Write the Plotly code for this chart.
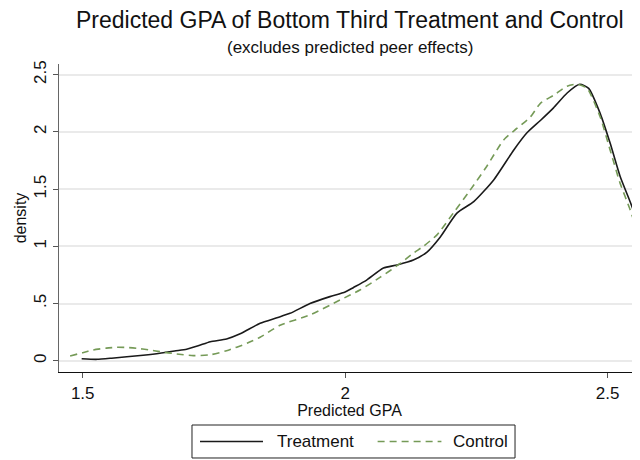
import plotly.graph_objects as go

# ---- data ----
treat_x = [1.498, 1.527, 1.555, 1.584, 1.615, 1.647, 1.675, 1.698, 1.720, 1.743,
           1.774, 1.800, 1.838, 1.870, 1.895, 1.933, 1.971, 2.000, 2.016, 2.041,
           2.073, 2.099, 2.130, 2.156, 2.181, 2.213, 2.245, 2.283, 2.321, 2.346,
           2.372, 2.397, 2.423, 2.447, 2.464, 2.486, 2.505, 2.524, 2.543, 2.559]
treat_y = [0.017, 0.012, 0.022, 0.035, 0.048, 0.065, 0.085, 0.100, 0.130, 0.166,
           0.190, 0.235, 0.327, 0.375, 0.414, 0.500, 0.560, 0.600, 0.640, 0.705,
           0.810, 0.837, 0.880, 0.950, 1.080, 1.290, 1.390, 1.580, 1.840, 1.990,
           2.100, 2.210, 2.340, 2.416, 2.380, 2.160, 1.900, 1.610, 1.390, 1.190]

ctrl_x = [1.476, 1.500, 1.520, 1.545, 1.565, 1.585, 1.603, 1.625, 1.647, 1.679,
          1.711, 1.743, 1.774, 1.813, 1.838, 1.876, 1.933, 1.990, 2.029, 2.067,
          2.105, 2.130, 2.149, 2.175, 2.206, 2.238, 2.270, 2.302, 2.327, 2.353,
          2.372, 2.397, 2.423, 2.442, 2.461, 2.486, 2.505, 2.524, 2.543, 2.556]
ctrl_y = [0.041, 0.070, 0.094, 0.110, 0.117, 0.115, 0.108, 0.095, 0.079, 0.059,
          0.044, 0.052, 0.087, 0.152, 0.205, 0.310, 0.400, 0.530, 0.620, 0.730,
          0.850, 0.940, 1.000, 1.100, 1.290, 1.490, 1.700, 1.930, 2.030, 2.130,
          2.250, 2.320, 2.400, 2.416, 2.380, 2.130, 1.840, 1.550, 1.320, 1.140]

x_tick_vals = [1.5, 2, 2.5]
x_tick_text = ["1.5", "2", "2.5"]
y_tick_vals = [0, 0.5, 1, 1.5, 2, 2.5]
y_tick_text = ["0", ".5", "1", "1.5", "2", "2.5"]

series_names = ["Treatment", "Control"]
series_colors = ["#1a1a1a", "#759a57"]

FONT = "Liberation Sans, Arial, Helvetica, sans-serif"

fig = go.Figure()
fig.add_trace(go.Scatter(x=treat_x, y=treat_y, mode="lines", name=series_names[0],
                         showlegend=False,
                         line=dict(color=series_colors[0], width=1.6, shape="spline", smoothing=0.6)))
fig.add_trace(go.Scatter(x=ctrl_x, y=ctrl_y, mode="lines", name=series_names[1],
                         showlegend=False,
                         line=dict(color=series_colors[1], width=1.6, dash="7px,5px",
                                   shape="spline", smoothing=0.6)))

# legend box drawn in paper coordinates (long sample lines like the reference)
leg_y0, leg_y1 = -0.2792, -0.1721
leg_mid = (leg_y0 + leg_y1) / 2
shapes = [
    dict(type="rect", xref="paper", yref="paper", x0=0.2289, x1=0.7849,
         y0=leg_y0, y1=leg_y1, line=dict(color="#222222", width=1), fillcolor="white"),
    dict(type="line", xref="paper", yref="paper", x0=0.2427, x1=0.3511,
         y0=leg_mid, y1=leg_mid, line=dict(color=series_colors[0], width=1.6)),
    dict(type="line", xref="paper", yref="paper", x0=0.5484, x1=0.6582,
         y0=leg_mid, y1=leg_mid, line=dict(color=series_colors[1], width=1.6, dash="7px,5px")),
]
annotations = [
    dict(text="Predicted GPA of Bottom Third Treatment and Control",
         xref="paper", yref="paper", x=0.5, y=1.143, xanchor="center", yanchor="middle",
         showarrow=False, font=dict(size=23, color="#111111")),
    dict(text="(excludes predicted peer effects)",
         xref="paper", yref="paper", x=0.5, y=1.055, xanchor="center", yanchor="middle",
         showarrow=False, font=dict(size=17, color="#111111")),
    dict(text=series_names[0], xref="paper", yref="paper", x=0.3711, y=leg_mid,
         xanchor="left", yanchor="middle", showarrow=False, font=dict(size=17, color="#111111")),
    dict(text=series_names[1], xref="paper", yref="paper", x=0.6740, y=leg_mid,
         xanchor="left", yanchor="middle", showarrow=False, font=dict(size=17, color="#111111")),
]

# the page body has an 8px margin, so the figure is drawn 8px in and 8px down
fig.update_layout(
    width=632, height=452,
    margin=dict(l=51, r=0, t=56, b=88),
    paper_bgcolor="white", plot_bgcolor="white",
    font=dict(family=FONT, size=16, color="#111111"),
    showlegend=False,
    shapes=shapes,
    annotations=annotations,
)

fig.update_xaxes(range=[1.4548, 2.5618], tickvals=x_tick_vals, ticktext=x_tick_text,
                 showgrid=False, zeroline=False, showline=True, linecolor="#111111",
                 linewidth=1.2, ticks="outside", ticklen=5, tickcolor="#555555",
                 tickfont=dict(size=17),
                 title=dict(text="Predicted GPA", font=dict(size=16), standoff=0))
fig.update_yaxes(range=[-0.0988, 2.5935], tickvals=y_tick_vals, ticktext=y_tick_text,
                 showgrid=True, gridcolor="#eaeaea", gridwidth=1.5,
                 zeroline=False, showline=True, linecolor="#666666",
                 linewidth=1.2, ticks="outside", ticklen=5, tickcolor="#555555",
                 tickangle=-90, tickfont=dict(size=17),
                 title=dict(text="density", font=dict(size=16), standoff=0))

fig.write_html("out.html")
